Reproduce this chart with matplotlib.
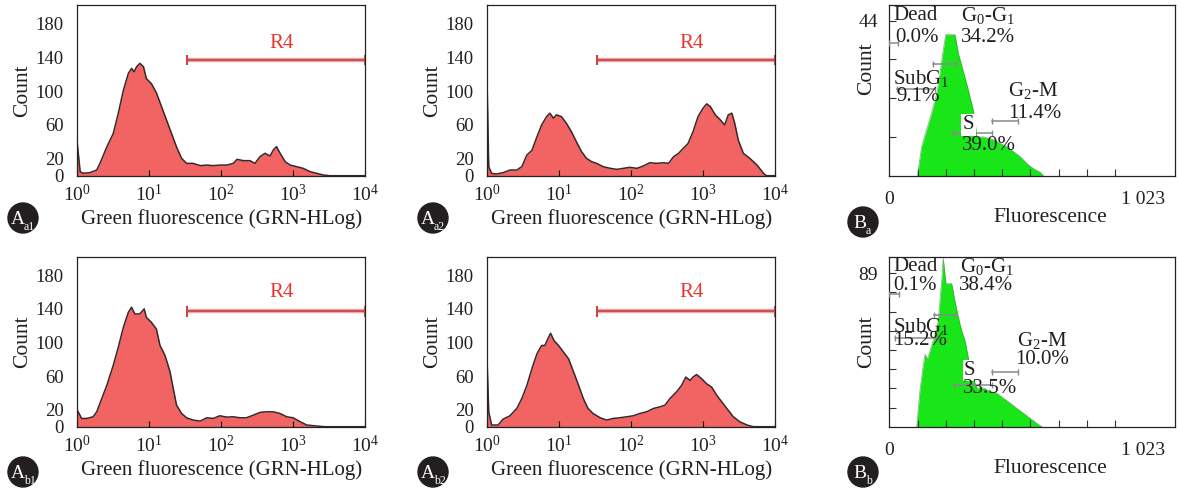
import numpy as np
import matplotlib.pyplot as plt
from matplotlib.patches import Circle

plt.rcParams['font.family'] = 'Liberation Serif'
plt.rcParams['mathtext.fontset'] = 'custom'
plt.rcParams['mathtext.rm'] = 'Liberation Serif'
plt.rcParams['mathtext.it'] = 'Liberation Serif:italic'
plt.rcParams['mathtext.default'] = 'rm'

TXT = '#231f20'

# ---- A panels: log10(fluorescence) vs count
lx_a1 = [0.0, 0.04, 0.08, 0.17, 0.27, 0.315, 0.41, 0.5, 0.57, 0.64, 0.71, 0.755, 0.79, 0.825, 0.87,
         0.92, 0.96, 1.03, 1.10, 1.17, 1.24, 1.31, 1.38, 1.45, 1.52, 1.61, 1.71, 1.80, 1.89, 1.98,
         2.08, 2.17, 2.22, 2.31, 2.40, 2.47, 2.54, 2.61, 2.68, 2.725, 2.77, 2.82, 2.89, 2.96, 3.05,
         3.14, 3.24, 3.33, 3.42, 3.51, 4.0]
ct_a1 = [38, 4.7, 3, 3.5, 6.7, 14.6, 34, 50, 74, 101, 121, 127, 123, 129, 133,
         129, 115, 109, 98, 82, 66, 50, 34, 20.5, 14.6, 14.6, 11.9, 12.6, 11.9, 12.6,
         12.6, 14.6, 19.4, 17.8, 17.8, 14.6, 22.5, 26.5, 23.3, 30.4, 34.4, 26.5, 16.6, 12.6, 10.7,
         8.7, 4.7, 2.8, 0.8, 0, 0]

lx_a2 = [0.0, 0.02, 0.06, 0.13, 0.22, 0.315, 0.41, 0.48, 0.55, 0.62, 0.69, 0.755, 0.825, 0.87, 0.92,
         0.96, 1.03, 1.10, 1.17, 1.24, 1.31, 1.38, 1.45, 1.52, 1.61, 1.71, 1.80, 1.89, 1.98, 2.08,
         2.17, 2.26, 2.35, 2.45, 2.52, 2.59, 2.66, 2.725, 2.79, 2.86, 2.93, 3.0, 3.05, 3.10, 3.17,
         3.24, 3.30, 3.35, 3.40, 3.44, 3.49, 3.56, 3.65, 3.75, 3.84, 3.88, 4.0]
ct_a2 = [97.6, 10.7, 2.8, 2, 3.6, 6.7, 6.7, 10.7, 24.5, 30, 46, 60, 70, 74, 68,
         72, 70, 62, 52, 40, 28.5, 20.5, 16.6, 14.6, 10.7, 8.7, 7.5, 8.7, 9.9, 8.7,
         11.5, 15.4, 14.6, 15.4, 14.6, 22.5, 26.5, 32.4, 38, 52, 70, 80, 85, 82, 72,
         66, 60, 72, 74, 62, 42, 26.5, 20.5, 12.6, 2.8, 0, 0]

lx_b1 = [0.0, 0.06, 0.13, 0.22, 0.27, 0.34, 0.41, 0.5, 0.57, 0.64, 0.71, 0.755, 0.80, 0.87, 0.93,
         0.96, 1.03, 1.10, 1.15, 1.22, 1.29, 1.335, 1.38, 1.45, 1.52, 1.61, 1.71, 1.80, 1.89, 1.98,
         2.08, 2.17, 2.26, 2.35, 2.45, 2.54, 2.63, 2.725, 2.82, 2.91, 3.0, 3.10, 3.19, 3.33, 3.44, 4.0]
ct_b1 = [19.7, 9.8, 9.8, 11.8, 17.7, 33.5, 49, 73, 94.5, 118, 136, 142, 134, 134, 140,
         130, 124, 116, 96.5, 84.6, 65, 45, 25.6, 15.7, 10.6, 7.9, 6.7, 10.6, 9.8, 13,
         11.4, 11.8, 10.6, 10.6, 13.8, 17, 17.7, 17.7, 15.7, 11.8, 10.6, 5.9, 2, 0.8, 0, 0]

lx_b2 = [0.0, 0.02, 0.06, 0.15, 0.22, 0.315, 0.41, 0.48, 0.55, 0.62, 0.69, 0.755, 0.80, 0.85, 0.88,
         0.93, 0.99, 1.06, 1.13, 1.20, 1.27, 1.335, 1.40, 1.47, 1.57, 1.66, 1.75, 1.84, 1.94, 2.03,
         2.12, 2.215, 2.31, 2.40, 2.47, 2.54, 2.63, 2.70, 2.76, 2.82, 2.86, 2.91, 2.98, 3.05, 3.12,
         3.19, 3.26, 3.33, 3.42, 3.51, 3.61, 3.70, 4.0]
ct_b2 = [70.9, 17.7, 2, 2, 9, 13, 21.7, 33.5, 49, 69, 86.6, 96.5, 96.5, 106, 111,
         102, 96.5, 88.6, 80.7, 65, 49, 33.5, 21.7, 15.7, 10.6, 7.9, 9.8, 10.6, 11.8, 13,
         15.7, 17.7, 21.7, 23.6, 25.6, 33.5, 41.3, 49, 59, 55, 59, 62, 57, 51, 47,
         37.4, 29.5, 21.7, 11.8, 5.9, 2, 0, 0]

r4_gate = [34, 1e4]
r4_level = 137
a_yticks = [0, 20, 60, 100, 140, 180]
a_xticks = [1, 10, 100, 1000, 10000]
a_xticklabels = ['$10^{0}$', '$10^{1}$', '$10^{2}$', '$10^{3}$', '$10^{4}$']

# ---- B panels: channel vs count
ch_ba = [113, 130, 150, 170, 191, 204, 217, 227, 264, 278, 298, 318, 338, 345, 352, 379, 412,
         446, 473, 500, 527, 553, 580, 607, 620]
ct_ba = [0, 8.2, 13, 17.7, 23.3, 29, 35.6, 40, 40, 34.7, 29.5, 24.3, 18.6, 15.5, 11, 11, 10.4,
         9.2, 8.2, 6.8, 5.4, 3.5, 2, 1, 0]
ch_bb = [110, 123, 137, 144, 153, 164, 184, 197, 211, 217, 228, 251, 264, 278, 291, 305, 318,
         325, 336, 352, 379, 405, 432, 459, 486, 513, 540, 567, 593, 614]
ct_bb = [0, 20.5, 36, 42, 39, 44, 53.7, 61.5, 85, 97.7, 83, 83, 73, 63.5, 55.7, 49.8, 40,
         32, 29, 22.5, 22.5, 20.5, 19.5, 16.6, 13.7, 10.7, 7.8, 4.9, 2, 0]

gate_lo = [0, 177, 30, 258, 412]
gate_hi = [36, 268, 184, 412, 517]
gate_y_ba = [37.5, 31.8, 24.7, 12.2, 15.6]
gate_lo_bb = [0, 181, 23, 260, 412]
gate_hi_bb = [40, 264, 191, 412, 520]
gate_y_bb = [76.8, 65, 51.2, 24.4, 31.6]
pct_ba = ['0.0%', '34.2%', '9.1%', '39.0%', '11.4%']
pct_bb = ['0.1%', '38.4%', '15.2%', '33.5%', '10.0%']
ba_max = 44
bb_max = 89

W, H = 1179, 490
fig = plt.figure(figsize=(W / 100, H / 100), dpi=100)


def px_axes(left, top, right, bottom):
    return fig.add_axes([left / W, 1 - bottom / H, (right - left) / W, (bottom - top) / H])


def a_panel(ax, lx, ct, r4y_text):
    x = 10 ** np.array(lx)
    ax.fill_between(x, ct, 0, color='#f26363', lw=0, zorder=1)
    ax.plot(x, ct, color='#35292a', lw=1.1, zorder=2)
    ax.set_xscale('log')
    ax.set_xlim(1, 1e4)
    ax.set_ylim(0, 202)
    # R4 gate
    ax.plot(r4_gate, [r4_level, r4_level], color='#f2a7a7', lw=3.2, zorder=3, solid_capstyle='butt')
    ax.plot(r4_gate, [r4_level, r4_level], color='#c9474a', lw=1.3, zorder=4)
    ax.plot([r4_gate[0]] * 2, [r4_level - 5, r4_level + 5], color='#c9474a', lw=1.5, zorder=4)
    ax.plot([r4_gate[1]] * 2, [r4_level - 5, r4_level + 5], color='#c9474a', lw=1.5, zorder=4)
    ax.text(10 ** 2.84, r4y_text, 'R4', color='#e8362f', fontsize=15, ha='center', va='center')
    ax.set_yticks(a_yticks)
    ax.set_xticks(a_xticks)
    ax.set_xticklabels(a_xticklabels)
    ax.tick_params(axis='y', length=0, pad=10, labelsize=13.5, labelcolor=TXT)
    ax.tick_params(axis='x', which='both', direction='in', top=False, labelsize=14, labelcolor=TXT, pad=6)
    ax.tick_params(axis='x', which='major', length=4)
    ax.tick_params(axis='x', which='minor', length=2.5)
    ax.set_ylabel('Count', fontsize=15.5, color=TXT)
    ax.yaxis.set_label_coords(-0.157, 0.5)
    ax.set_xlabel('Green fluorescence (GRN-HLog)', fontsize=15, color=TXT, labelpad=3)
    for s in ax.spines.values():
        s.set_linewidth(0.9)
        s.set_color('#222222')


def b_panel(ax, ch, ct, ymax, nticks, ytop, glo, ghi, gy, pct, spots, lab_y):
    ax.fill_between(ch, ct, 0, color='#19e619', lw=0, zorder=1)
    ax.plot(ch, ct, color='#3a8a3a', lw=0.6, alpha=0.6, zorder=2)
    ax.set_xlim(0, 1150)
    ax.set_ylim(0, ytop)
    for lo, hi, y in zip(glo, ghi, gy):
        ax.plot([lo, hi], [y, y], color='#8a8a8a', lw=1.1, zorder=3)
        ax.plot([lo, hi], [y, y], ls='none', marker='|', ms=4, color='#8a8a8a', zorder=3)
    names = ['Dead', '$\\mathrm{G_0}$-$\\mathrm{G_1}$', '$\\mathrm{SubG_1}$', 'S', '$\\mathrm{G_2}$-M']
    for i, (nm, p) in enumerate(zip(names, pct)):
        (nx, ny), (px, py) = spots[i]
        kw = dict(fontsize=15, color=TXT, ha='left', va='center', zorder=5)
        if nm == 'S':
            ax.text(nx, ny, nm, bbox=dict(facecolor='white', edgecolor='none', pad=1.0), **kw)
        else:
            ax.text(nx, ny, nm, **kw)
        ax.text(px, py, p, **kw)
    step = 1023 / 9
    ax.set_xticks(np.arange(1, 10) * step, minor=True)
    ax.set_xticks([0, 1023])
    ax.set_xticklabels(['0', '1 023'])
    yt = np.arange(1, nticks + 1) * ymax / nticks
    ax.set_yticks(yt)
    ax.set_yticklabels([''] * (nticks - 1) + [str(ymax)])
    ax.tick_params(axis='both', which='both', direction='in', length=5, width=0.8,
                   labelsize=14, labelcolor=TXT, color='#333333')
    ax.tick_params(axis='y', pad=8)
    ax.tick_params(axis='x', which='major', length=0, pad=11)
    ax.set_ylabel('Count', fontsize=15.5, color=TXT)
    ax.yaxis.set_label_coords(-0.045, lab_y)
    ax.set_xlabel('Fluorescence', fontsize=15.5, color=TXT)
    ax.xaxis.set_label_coords(0.565, -0.19)
    for s in ax.spines.values():
        s.set_linewidth(0.9)
        s.set_color('#222222')


ax1 = px_axes(77.3, 5, 365, 175.7)
ax2 = px_axes(487.3, 5, 775, 175.7)
ax3 = px_axes(889.3, 5, 1175, 175.7)
ax4 = px_axes(77.3, 256.7, 365, 426.7)
ax5 = px_axes(487.3, 256.7, 775, 426.7)
ax6 = px_axes(889.3, 256.7, 1175, 426.7)

a_panel(ax1, lx_a1, ct_a1, 157)
a_panel(ax2, lx_a2, ct_a2, 157)
a_panel(ax4, lx_b1, ct_b1, 159)
a_panel(ax5, lx_b2, ct_b2, 159)

spots_ba = [((18, 45.5), (24, 39.3)), ((287, 45.5), (287, 39.3)), ((14, 27.7), (30, 22.4)),
            ((295, 14.4), (291, 8.7)), ((479, 24.1), (479, 17.7))]
spots_bb = [((16, 93), (16, 82)), ((285, 93), (282, 82)), ((16, 58.4), (16, 49.8)),
            ((301, 32.6), (298, 22.1)), ((513, 49.8), (506, 38.7))]
b_panel(ax3, ch_ba, ct_ba, ba_max, 4, 48.4, gate_lo, gate_hi, gate_y_ba, pct_ba, spots_ba, 0.625)
b_panel(ax6, ch_bb, ct_bb, bb_max, 8, 98.6, gate_lo_bb, gate_hi_bb, gate_y_bb, pct_bb, spots_bb, 0.5)

# panel badges
ov = fig.add_axes([0, 0, 1, 1])
ov.set_xlim(0, W)
ov.set_ylim(H, 0)
ov.axis('off')
badges = [(23, 218, 'A', 'a1'), (433, 218, 'A', 'a2'), (863, 222, 'B', 'a'),
          (23, 472, 'A', 'b1'), (433, 472, 'A', 'b2'), (863, 472, 'B', 'b')]
for cx, cy, big, sub in badges:
    ov.add_patch(Circle((cx, cy), 15, color='#231f20'))
    dx = -5 if len(sub) == 2 else -3
    ov.text(cx + dx, cy + 1, big, color='white', fontsize=14, ha='center', va='center')
    ov.text(cx + dx + 6, cy + 9, sub, color='white', fontsize=8.5, ha='left', va='center')

fig.savefig('out.png', dpi=100)
